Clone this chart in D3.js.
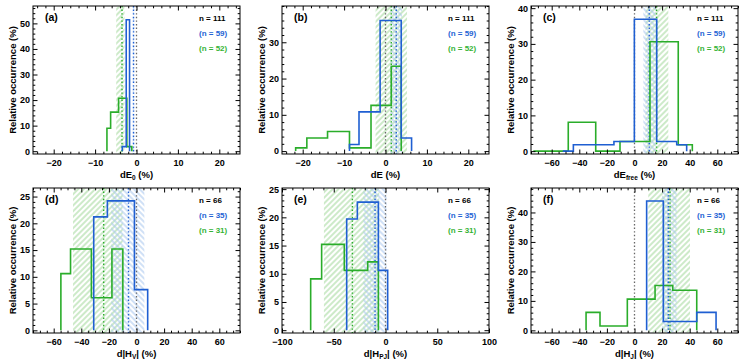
<!DOCTYPE html>
<html><head><meta charset="utf-8">
<script src="https://cdn.jsdelivr.net/npm/d3@7"></script>
<style>
body{margin:0;background:#fff}
svg{display:block}
text{font-family:"Liberation Sans",Arial,Helvetica,sans-serif;font-weight:bold}
</style>
</head><body>
<svg id="c" width="747" height="362"></svg>
<script>
// ---------- data ----------
const panelLabels = ["(a)","(b)","(c)","(d)","(e)","(f)"];
const xTitles = [
  [["dE",""],["0","sub"],[" (%)",""]],
  [["dE (%)",""]],
  [["dE",""],["free","sub"],[" (%)",""]],
  [["d|H",""],["V","sub"],["| (%)",""]],
  [["d|H",""],["PJ","sub"],["| (%)",""]],
  [["d|H",""],["J","sub"],["| (%)",""]]
];
const yTitle = "Relative occurrence (%)";
const xDomains = [[-25,25],[-25,25],[-75,75],[-75,75],[-100,100],[-75,75]];
const xTickValues = [[-20,-10,0,10,20],[-20,-10,0,10,20],[-60,-40,-20,0,20,40,60],[-60,-40,-20,0,20,40,60],[-100,-50,0,50,100],[-60,-40,-20,0,20,40,60]];
const xMinorStep = [2,2,5,5,10,5];
const yDomains = [[-1.1,56.8],[-0.8,40],[-0.8,40.6],[-0.5,26.6],[-0.5,25.2],[-0.9,48.3]];
const yTickValues = [[0,10,20,30,40,50],[0,10,20,30],[0,10,20,30,40],[0,5,10,15,20,25],[0,5,10,15,20,25],[0,10,20,30,40]];
const yMinorStep = [2,2,2,1,1,2];

const nAll = [111,111,111,66,66,66];
const nBlue = [59,59,59,35,35,35];
const nGreen = [52,52,52,31,31,31];

const blueEdges = [
  [-3.44,-2.48,-1.68],
  [-8.7,-6.4,-1.3,3.8,6.3],
  [-52,-44.3,-14.9,-0.1,16.1,30.6,37.8],
  [-31.0,-21.1,-1.5,8.1],
  [-37.5,-27.2,-6.9,2.1],
  [8.8,20.9,45.1,59.1]
];
const blueValues = [
  [1.8,51.4],
  [1.8,10.8,36.0,3.6],
  [0,1.8,2.7,36.9,2.7,1.8],
  [21.2,24.2,7.6],
  [19.7,22.7,10.6],
  [43.9,3.0,6.1]
];
const greenEdges = [
  [-7.14,-6.25,-4.33,-2.33,-1.13],
  [-21.7,-19.0,-14.0,-8.7,-3.5,1.4,3.8],
  [-73.3,-48,-28.1,-10.5,11.2,31.7,41.9],
  [-54.8,-47.8,-32.7,-17.8,-9.9],
  [-72.3,-61.7,-39.8,-17.2,-6.9],
  [-35.1,-25.0,-5.2,14.9,27.7,45.1]
];
const greenValues = [
  [9.0,15.3,20.7,1.8],
  [0.9,3.6,5.4,0.9,12.6,23.4],
  [0,8.1,0,2.7,30.6,1.8],
  [10.6,15.2,6.1,15.2],
  [9.1,15.2,10.6,12.1],
  [6.1,1.5,10.6,15.2,13.6]
];
const greenBand = [[-4.9,-2.9],[-2.4,5.2],[8,24.5],[-46,-10],[-59.5,-6],[10,40.2]];
const greenMedian = [-3.5,1.4,16,-23.8,-32,25.7];
const blueBand = [[-0.9,-0.55],[1.2,4.0],[6.4,15.4],[-18.3,5.7],[-21.4,1.2],[20,30.6]];
const blueMedian = [-0.72,2.6,10.7,-5.8,-10.1,24.5];
const zeroLine = [0,0,0,0,0,0];

// ---------- layout / style ----------
const colLeft = [33,282,531], colW = 207;
const rowTop = [6,188], rowBot = [154,333];
const BLUE = "#1f5fd2", GREEN = "#2aad2a", BLUE_T = "#2463d4", GREEN_T = "#35b335";

const svg = d3.select("#c");
const defs = svg.append("defs");
function hatch(id, color, angle){
  const p = defs.append("pattern").attr("id",id).attr("patternUnits","userSpaceOnUse")
    .attr("width",4).attr("height",4).attr("patternTransform",`rotate(${angle})`);
  p.append("line").attr("x1",1).attr("y1",0).attr("x2",1).attr("y2",4)
    .attr("stroke",color).attr("stroke-width",1.1);
}
hatch("hg","#a3d99c",45);
hatch("hb","#a9c7ee",-45);

function stepPath(x,y,edges,vals){
  const p = d3.path();
  p.moveTo(x(edges[0]), y(0));
  for(let k=0;k<vals.length;k++){
    p.lineTo(x(edges[k]), y(vals[k]));
    p.lineTo(x(edges[k+1]), y(vals[k]));
  }
  p.lineTo(x(edges[edges.length-1]), y(0));
  return p.toString();
}
function minorTicks(dom, step, majors){
  const out=[]; const s=Math.ceil(dom[0]/step)*step;
  for(let v=s; v<=dom[1]+1e-9; v+=step){
    const r=Math.round(v*1000)/1000;
    if(!majors.some(m=>Math.abs(m-r)<1e-9)) out.push(r);
  }
  return out;
}

for(let i=0;i<6;i++){
  const col=i%3, row=Math.floor(i/3);
  const L=colLeft[col], R=L+colW, T=rowTop[row], B=rowBot[row];
  const x=d3.scaleLinear().domain(xDomains[i]).range([L,R]);
  const y=d3.scaleLinear().domain(yDomains[i]).range([B,T]);
  const g=svg.append("g");

  // bands
  const band=(b,fill)=>g.append("rect").attr("x",x(b[0])).attr("y",T+0.5)
     .attr("width",x(b[1])-x(b[0])).attr("height",B-T-1).attr("fill",fill);
  band(greenBand[i],"url(#hg)");
  band(blueBand[i],"url(#hb)");

  // vertical reference lines
  const vline=(v,color,w)=>g.append("line").attr("x1",x(v)).attr("x2",x(v))
     .attr("y1",T).attr("y2",B).attr("stroke",color).attr("stroke-width",w)
     .attr("stroke-dasharray","1.4,2.2");
  vline(zeroLine[i],"#666",1.3);
  vline(greenMedian[i],GREEN,1.4);
  vline(blueMedian[i],BLUE,1.4);

  // histograms
  g.append("path").attr("d",stepPath(x,y,greenEdges[i],greenValues[i]))
    .attr("fill","none").attr("stroke",GREEN).attr("stroke-width",1.6);
  g.append("path").attr("d",stepPath(x,y,blueEdges[i],blueValues[i]))
    .attr("fill","none").attr("stroke",BLUE).attr("stroke-width",1.6);

  // axes
  const styleAx=sel=>{sel.select(".domain").remove(); sel.selectAll("line").attr("stroke","#000").attr("stroke-width",1);
    sel.selectAll("text").attr("font-size",9).attr("font-weight","bold").attr("fill","#000")
      .attr("font-family","Liberation Sans, Arial, sans-serif");};
  const xm=minorTicks(xDomains[i],xMinorStep[i],xTickValues[i]);
  const ym=minorTicks(yDomains[i].map((d,j)=>j==0?Math.max(d,0):d),yMinorStep[i],yTickValues[i]);
  g.append("g").attr("transform",`translate(0,${B})`)
    .call(d3.axisBottom(x).tickValues(xTickValues[i]).tickSize(-4.5).tickPadding(6).tickFormat(d3.format("d"))).call(styleAx);
  g.append("g").attr("transform",`translate(0,${B})`)
    .call(d3.axisBottom(x).tickValues(xm).tickSize(-2.3).tickFormat("")).call(styleAx);
  g.append("g").attr("transform",`translate(0,${T})`)
    .call(d3.axisTop(x).tickValues(xTickValues[i]).tickSize(-4.5).tickFormat("")).call(styleAx);
  g.append("g").attr("transform",`translate(0,${T})`)
    .call(d3.axisTop(x).tickValues(xm).tickSize(-2.3).tickFormat("")).call(styleAx);
  g.append("g").attr("transform",`translate(${L},0)`)
    .call(d3.axisLeft(y).tickValues(yTickValues[i]).tickSize(-4.5).tickPadding(3).tickFormat(d3.format("d"))).call(styleAx);
  g.append("g").attr("transform",`translate(${L},0)`)
    .call(d3.axisLeft(y).tickValues(ym).tickSize(-2.3).tickFormat("")).call(styleAx);
  g.append("g").attr("transform",`translate(${R},0)`)
    .call(d3.axisRight(y).tickValues(yTickValues[i]).tickSize(-4.5).tickFormat("")).call(styleAx);
  g.append("g").attr("transform",`translate(${R},0)`)
    .call(d3.axisRight(y).tickValues(ym).tickSize(-2.3).tickFormat("")).call(styleAx);

  g.append("rect").attr("x",L).attr("y",T).attr("width",R-L).attr("height",B-T)
    .attr("fill","none").attr("stroke","#000").attr("stroke-width",1);

  // titles
  const xt=g.append("text").attr("x",(L+R)/2).attr("y",B+23.5).attr("text-anchor","middle")
    .attr("font-size",9.5).attr("fill","#000");
  xTitles[i].forEach(s=>{
    const t=xt.append("tspan").text(s[0]);
    if(s[1]==="sub") t.attr("font-size",6.5).attr("dy",2);
    else if(xt.selectAll("tspan").size()>1) t.attr("dy",-2);
  });
  g.append("text").attr("transform",`translate(${L-17.5},${(T+B)/2}) rotate(-90)`)
    .attr("text-anchor","middle").attr("font-size",9.5).attr("fill","#000").text(yTitle);
  g.append("text").attr("x",L+12).attr("y",T+14.5).attr("font-size",10.5).attr("fill","#000").text(panelLabels[i]);

  const nx=L+166;
  g.append("text").attr("x",nx).attr("y",T+15).attr("font-size",8).attr("fill","#000").text(`n = ${nAll[i]}`);
  g.append("text").attr("x",nx).attr("y",T+30).attr("font-size",8).attr("fill",BLUE_T).text(`(n = ${nBlue[i]})`);
  g.append("text").attr("x",nx).attr("y",T+45).attr("font-size",8).attr("fill",GREEN_T).text(`(n = ${nGreen[i]})`);
}
</script>
</body></html>
